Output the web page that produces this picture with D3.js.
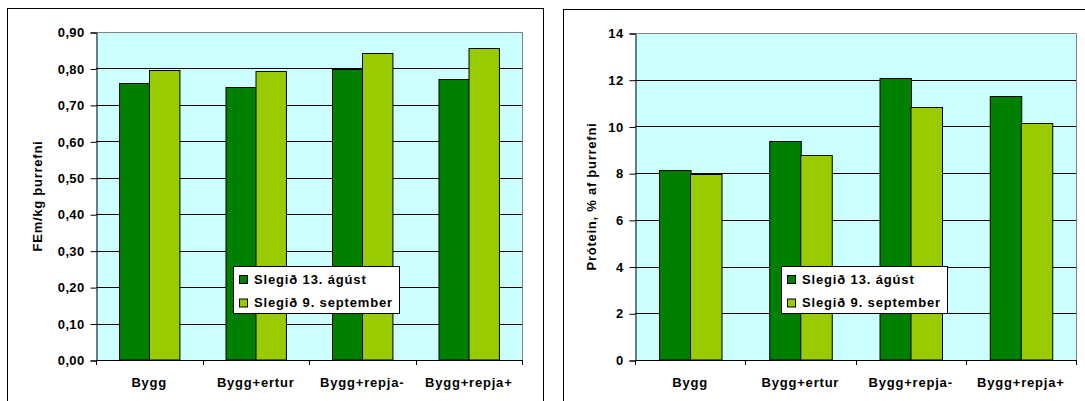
<!DOCTYPE html>
<html>
<head>
<meta charset="utf-8">
<script src="https://cdn.jsdelivr.net/npm/d3@7"></script>
<style>
  body { margin: 0; background: #fff; }
  svg { display: block; font-family: "Liberation Sans", Arial, sans-serif; font-weight: bold; }
</style>
</head>
<body>
<svg id="chart" width="1085" height="401"></svg>
<script>
// categories and series
const categories = ["Bygg", "Bygg+ertur", "Bygg+repja-", "Bygg+repja+"]
const seriesNames = ["Slegið 13. ágúst", "Slegið 9. september"]
const seriesColors = ["#008000", "#99CC00"]

// FEm/kg þurrefni
const fem13aug = [0.76, 0.75, 0.798, 0.772]
const fem9sep = [0.795, 0.792, 0.842, 0.857]
const femTicks = [0, 0.1, 0.2, 0.3, 0.4, 0.5, 0.6, 0.7, 0.8, 0.9]

// Prótein, % af þurrefni
const prot13aug = [8.15, 9.36, 12.09, 11.29]
const prot9sep = [7.98, 8.79, 10.82, 10.13]
const protTicks = [0, 2, 4, 6, 8, 10, 12, 14]

const svg = d3.select("#chart")
const commaFmt = d3.formatLocale({decimal: ",", thousands: ".", grouping: [3], currency: ["", ""]}).format(".2f")

function barChart(g, {
    values,
    ticks,
    tickFormat,
    yLabel,
    yLabelX, // x of rotated label baseline
    box, // outer frame [x, y, width]
    plot, // [left, top, right, bottom]
    legendPos // [x, y]
}) {
    const [left, top, right, bottom] = plot

    g.append("rect")
        .attr("x", box[0] + 0.5).attr("y", box[1] + 0.5)
        .attr("width", box[2]).attr("height", 420)
        .attr("fill", "#fff").attr("stroke", "#000")

    const x = d3.scaleBand().domain(categories).range([left, right])
    const xs = d3.scaleBand().domain(d3.range(seriesNames.length))
        .range([0, x.bandwidth()]).paddingInner(0).paddingOuter(0.75)
    const y = d3.scaleLinear().domain([0, d3.max(ticks)]).range([bottom, top])

    // plot background
    g.append("rect")
        .attr("x", left).attr("y", top)
        .attr("width", right - left).attr("height", bottom - top)
        .attr("fill", "#CCFFFF")

    // grid lines
    g.append("g")
        .selectAll("line")
        .data(ticks.slice(1, -1))
        .join("line")
        .attr("x1", left).attr("x2", right)
        .attr("y1", d => Math.round(y(d)) + 0.5).attr("y2", d => Math.round(y(d)) + 0.5)
        .attr("stroke", "#000")

    // plot border (grey top/right)
    g.append("path")
        .attr("d", `M${left + 0.5},${top + 0.5}H${right + 0.5}V${bottom}`)
        .attr("fill", "none").attr("stroke", "#808080")

    // bars
    g.append("g")
        .selectAll("g")
        .data(categories)
        .join("g")
        .attr("transform", d => `translate(${x(d)},0)`)
        .selectAll("rect")
        .data((d, i) => values.map((s, k) => ({k, v: s[i]})))
        .join("rect")
        .attr("x", d => Math.round(xs(d.k)) + 0.5)
        .attr("y", d => Math.round(y(d.v)) + 0.5)
        .attr("width", xs.bandwidth())
        .attr("height", d => bottom - Math.round(y(d.v)) - 0.5)
        .attr("fill", d => seriesColors[d.k])
        .attr("stroke", "#000")

    // y axis
    const yAxis = d3.axisLeft(y).tickValues(ticks).tickFormat(tickFormat).tickSize(6).tickPadding(6)
    g.append("g")
        .attr("transform", `translate(${left + 0.5},0.5)`)
        .call(yAxis)
        .call(a => a.select(".domain").attr("stroke", "#000"))
        .call(a => a.selectAll("text")
            .attr("font-size", 13).attr("font-family", null)
            .attr("letter-spacing", 0.35).attr("fill", "#000"))

    // x axis: boundary ticks + labels
    const bounds = d3.range(categories.length + 1).map(i => left + i * x.step())
    g.append("line")
        .attr("x1", left).attr("x2", right + 1)
        .attr("y1", bottom + 0.5).attr("y2", bottom + 0.5)
        .attr("stroke", "#000")
    g.append("g")
        .selectAll("line")
        .data(bounds)
        .join("line")
        .attr("x1", d => Math.round(d) + 0.5).attr("x2", d => Math.round(d) + 0.5)
        .attr("y1", bottom).attr("y2", bottom + 5)
        .attr("stroke", "#000")
    g.append("g")
        .selectAll("text")
        .data(categories)
        .join("text")
        .attr("x", d => x(d) + x.bandwidth() / 2)
        .attr("y", bottom + 27)
        .attr("text-anchor", "middle")
        .attr("font-size", 13)
        .attr("letter-spacing", 0.8)
        .text(d => d)

    // y label
    g.append("text")
        .attr("transform", `translate(${yLabelX},${(top + bottom) / 2}) rotate(-90)`)
        .attr("text-anchor", "middle")
        .attr("font-size", 13)
        .attr("letter-spacing", 0.75)
        .text(yLabel)

    // legend
    const lg = g.append("g").attr("transform", `translate(${legendPos[0]},${legendPos[1]})`)
    lg.append("rect")
        .attr("x", 0.5).attr("y", 0.5)
        .attr("width", 166).attr("height", 47)
        .attr("fill", "#fff").attr("stroke", "#000")
    const item = lg.selectAll("g")
        .data(seriesNames)
        .join("g")
        .attr("transform", (d, i) => `translate(6,${13 + i * 23.5})`)
    item.append("rect")
        .attr("x", 0.5).attr("y", -3.5)
        .attr("width", 8).attr("height", 8)
        .attr("fill", (d, i) => seriesColors[i])
        .attr("stroke", "#000")
    item.append("text")
        .attr("x", 15)
        .attr("y", 0)
        .attr("dy", "0.36em")
        .attr("font-size", 13)
        .attr("letter-spacing", 0.85)
        .text(d => d)
}

barChart(svg.append("g"), {
    values: [fem13aug, fem9sep],
    ticks: femTicks,
    tickFormat: commaFmt,
    yLabel: "FEm/kg þurrefni",
    yLabelX: 42,
    box: [7, 8, 536],
    plot: [96, 32, 522, 360],
    legendPos: [233, 266]
})

barChart(svg.append("g"), {
    values: [prot13aug, prot9sep],
    ticks: protTicks,
    tickFormat: d3.format("d"),
    yLabel: "Prótein, % af þurrefni",
    yLabelX: 596,
    box: [563, 9, 600],
    plot: [635, 33, 1076, 360],
    legendPos: [781, 266]
})
</script>
</body>
</html>
